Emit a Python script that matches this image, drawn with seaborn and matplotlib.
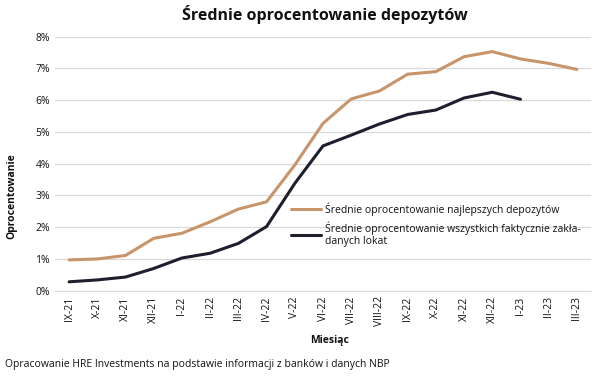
import matplotlib
matplotlib.use("Agg")
import matplotlib.pyplot as plt
import matplotlib.ticker as mticker
import seaborn as sns
import pandas as pd

miesiace = ["IX-21", "X-21", "XI-21", "XII-21", "I-22", "II-22", "III-22", "IV-22",
            "V-22", "VI-22", "VII-22", "VIII-22", "IX-22", "X-22", "XI-22", "XII-22",
            "I-23", "II-23", "III-23"]
najlepsze = [0.97, 1.00, 1.11, 1.65, 1.81, 2.17, 2.57, 2.80, 3.96, 5.27, 6.04, 6.29,
             6.82, 6.90, 7.37, 7.53, 7.30, 7.16, 6.97]
wszystkie = [0.28, 0.34, 0.43, 0.70, 1.03, 1.18, 1.49, 2.02, 3.38, 4.56, 4.90, 5.25,
             5.55, 5.69, 6.07, 6.25, 6.03]

lab1 = "Średnie oprocentowanie najlepszych depozytów"
lab2 = "Średnie oprocentowanie wszystkich faktycznie zakła-\ndanych lokat"

df = pd.concat([
    pd.DataFrame({"m": range(len(najlepsze)), "v": [v / 100 for v in najlepsze], "s": lab1}),
    pd.DataFrame({"m": range(len(wszystkie)), "v": [v / 100 for v in wszystkie], "s": lab2}),
])

sns.set_style("white")
plt.rcParams["font.family"] = ["Open Sans", "DejaVu Sans"]
plt.rcParams["text.color"] = "#111111"
plt.rcParams["xtick.color"] = "#111111"
plt.rcParams["ytick.color"] = "#111111"

fig = plt.figure(figsize=(6.06, 3.84), dpi=100)
ax = fig.add_axes([55 / 606, 1 - 290.7 / 384, 536 / 606, 254 / 384])

sns.lineplot(data=df, x="m", y="v", hue="s", palette=["#C8946A", "#1E1E2E"],
             linewidth=2.2, ax=ax)

ax.set_xlim(-0.5, len(miesiace) - 0.5)
ax.set_ylim(0, 0.08)
ax.yaxis.set_major_locator(mticker.MultipleLocator(0.01))
ax.yaxis.set_major_formatter(mticker.PercentFormatter(1.0, decimals=0))
ax.set_xticks(range(len(miesiace)))
ax.set_xticklabels(miesiace, rotation=90, fontsize=7.5)
ax.tick_params(axis="y", labelsize=7.5, length=0, pad=3.5)
ax.tick_params(axis="x", length=0, pad=4)
ax.grid(axis="y", color="#D9D9D9", linewidth=0.9)
for s in ["top", "right", "left"]:
    ax.spines[s].set_visible(False)
ax.spines["bottom"].set_color("#D9D9D9")

ax.set_xlabel("")
ax.set_ylabel("")
fig.text(12 / 606, 1 - 196 / 384, "Oprocentowanie", rotation=90, fontsize=7.5,
         fontweight="bold", ha="center", va="center")
fig.text(330 / 606, 1 - 340 / 384, "Miesiąc", fontsize=7.5, fontweight="bold",
         ha="center", va="center")
fig.text(5 / 606, 1 - 365 / 384,
         "Opracowanie HRE Investments na podstawie informacji z banków i danych NBP",
         fontsize=7.5, ha="left", va="center")
fig.text(325 / 606, 1 - 15 / 384, "Średnie oprocentowanie depozytów", fontsize=11.5,
         fontweight="bold", ha="center", va="center")

ax.legend(loc="upper left", bbox_to_anchor=(291 / 606, 1 - 202 / 384),
          bbox_transform=fig.transFigure, frameon=False, fontsize=7.5,
          handlelength=2.9, handletextpad=0.4, borderpad=0, borderaxespad=0,
          labelspacing=0.55)

fig.savefig("out.png", dpi=100)
